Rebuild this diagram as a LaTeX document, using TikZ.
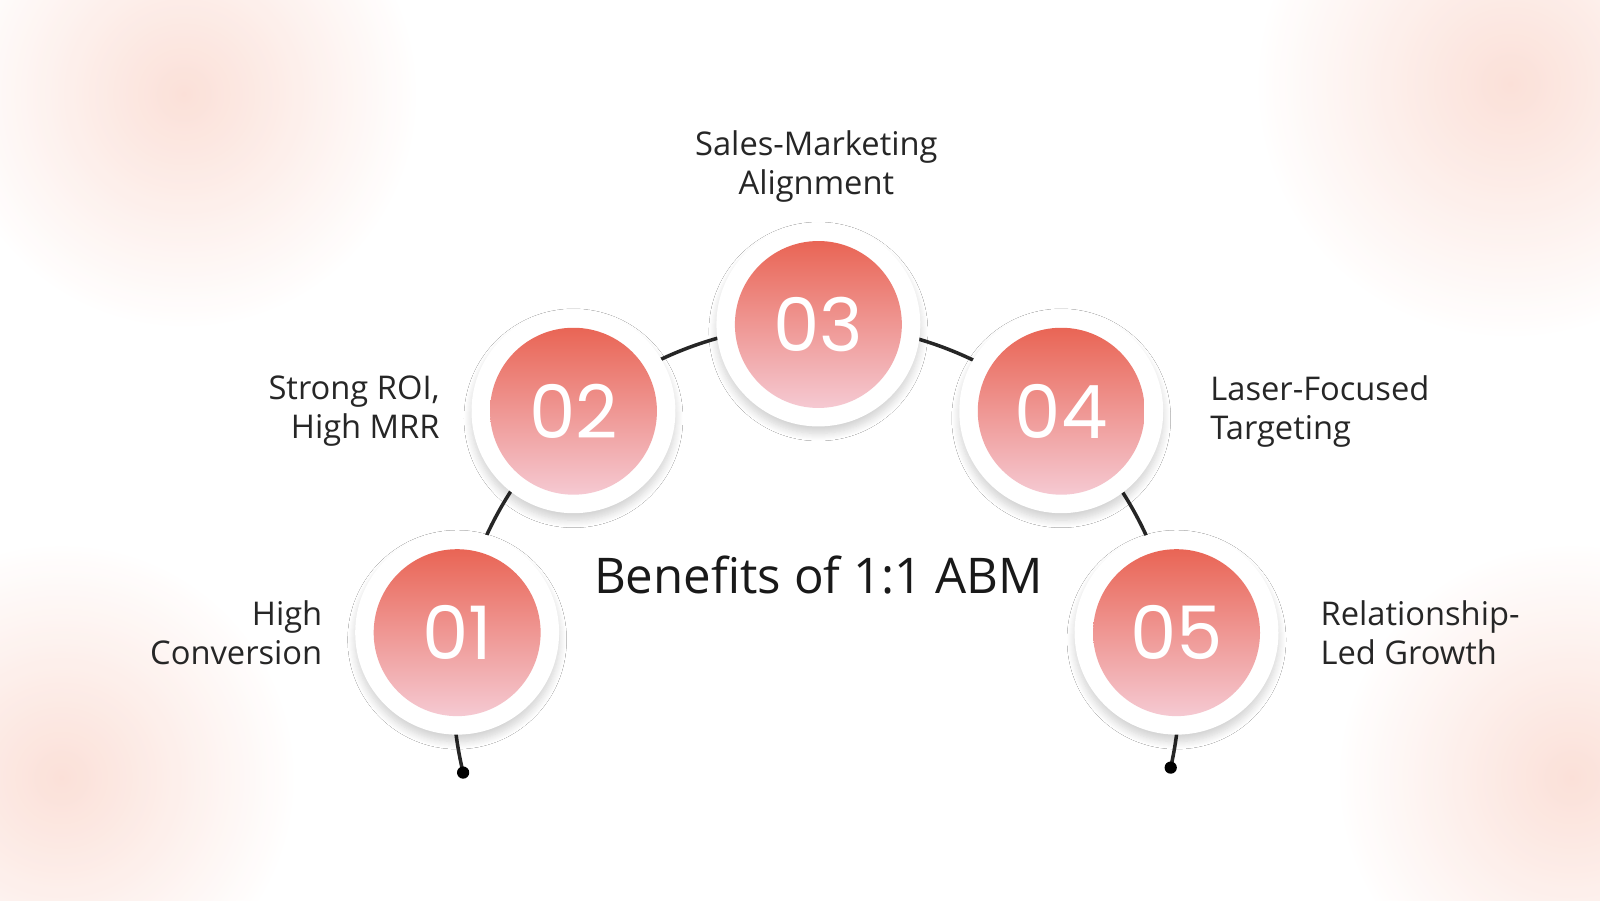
\documentclass[tikz,border=0pt]{standalone}
\usepackage{fontspec}
\setmainfont{Open Sans}
\newfontfamily\numfont{Poppins}
\usetikzlibrary{shadows.blur}
\definecolor{topc}{HTML}{E96555}
\definecolor{botc}{HTML}{F5C9D2}
\definecolor{pinkbg}{HTML}{FBD9CF}
\tikzset{
 ring/.style={circle,fill=white,minimum size=2.04cm,inner sep=0,blur shadow={shadow blur steps=8,shadow xshift=0pt,shadow yshift=-2pt,shadow opacity=18}},
 ball/.style={circle,minimum size=1.67cm,inner sep=0,top color=topc,bottom color=botc,text=white,font=\numfont\fontsize{21}{21}\selectfont},
 lab/.style={font=\fontsize{9.3}{11.2}\selectfont,text=black!85},
}
\begin{document}
\begin{tikzpicture}[x=0.010204cm,y=0.010204cm]
\useasboundingbox (0,0) rectangle (1568,882);
\fill[white] (0,0) rectangle (1568,882);
\shade[inner color=pinkbg,outer color=white,opacity=0.8] (180,790) circle (230);
\shade[inner color=pinkbg,outer color=white,opacity=0.8] (1480,800) circle (250);
\shade[inner color=pinkbg,outer color=white,opacity=0.8] (60,120) circle (230);
\shade[inner color=pinkbg,outer color=white,opacity=0.8] (1540,120) circle (230);
\coordinate (cen) at (800,208);
\draw[line width=1pt,black!85] (cen) ++(193.5:356) coordinate (e1) arc (193.5:-12.7:356) coordinate (e2);
\fill (e1) circle (6);
\fill (e2) circle (6);
\foreach \n/\x/\y in {1/448/262,2/562/479,3/802/564,4/1040/479,5/1153/262}{
 \node[ring] (r\n) at (\x,\y) {};
 \node[ball] (b\n) at (\x,\y) {0\n};
}
\node[lab,align=right,anchor=east] (l1) at (328,262) {High\\Conversion};
\node[lab,align=right,anchor=east] (l2) at (443,479) {Strong ROI,\\High MRR};
\node[lab,align=center] (l3) at (800,719) {Sales-Marketing\\Alignment};
\node[lab,align=left,anchor=west] (l4) at (1174,479) {Laser-Focused\\Targeting};
\node[lab,align=left,anchor=west] (l5) at (1282,262) {Relationship-\\Led Growth};
\node[font=\fontsize{14}{15}\selectfont,text=black!90] (t) at (802,318) {Benefits of 1:1 ABM};
\end{tikzpicture}
\end{document}
